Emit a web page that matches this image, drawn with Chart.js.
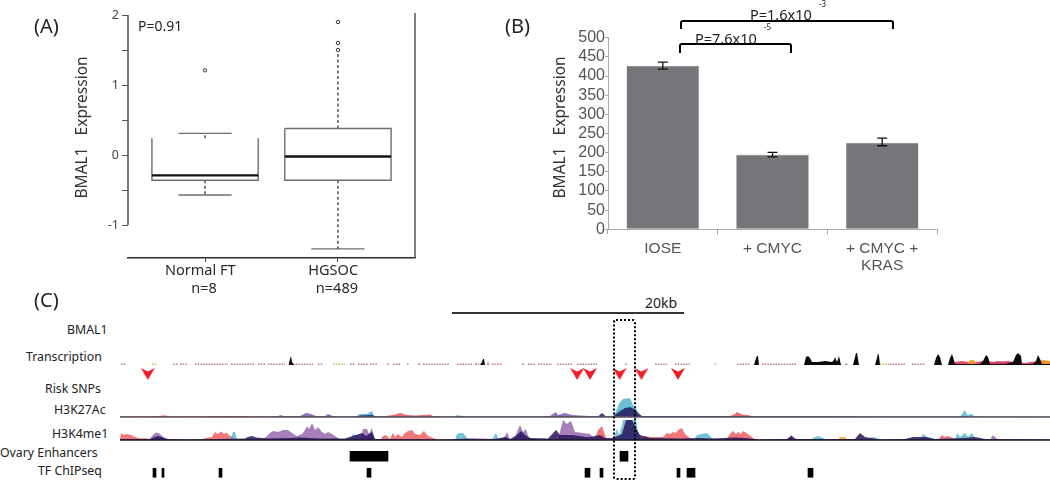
<!DOCTYPE html>
<html><head><meta charset="utf-8">
<script src="https://cdn.jsdelivr.net/npm/chart.js@4"></script>
<style>
html,body{margin:0;padding:0;background:#fff;overflow:hidden;width:1050px;height:481px}
canvas{position:absolute}
canvas.track{filter:blur(0.35px)}
.t{position:absolute;white-space:pre;transform:translateY(-50%);font-family:"Noto Sans",sans-serif;color:#222;line-height:1}
.br{position:absolute;border:2px solid #000;border-bottom:none;border-radius:3px 3px 0 0;box-sizing:border-box}
</style></head><body>
<script>
/* ---------- Panel A: box plot ---------- */
const boxGroups = ["Normal FT","HGSOC"];
const boxTickLabels = [["Normal FT  ","n=8"],["HGSOC  ","n=489"]];
const boxQ1 = [-0.36,-0.36];
const boxMedian = [-0.29,-0.02];
const boxQ3 = [0.24,0.38];
const boxWhiskerLow = [-0.57,-1.34];
const boxWhiskerHigh = [0.31,1.47];
const boxTopEdgeDrawn = [false,true];
const boxOutliers = [[1.21],[1.9,1.6,1.5]];
const boxYTicks = [-1,-0.5,0,0.5,1,1.5,2];

/* ---------- Panel B: bars ---------- */
const barCategories = ["IOSE","+ CMYC",["+ CMYC +","KRAS"]];
const barValues = [427,195,226];
const barErrLow = [418,189,218];
const barErrHigh = [436,201,238];

/* ---------- Panel C: tracks, x in position units across the browser view ---------- */
const snpPositions = [143,577,590,620,642,679];
const enhancerSpans = [[350,388],[620,628]];
const tfSpans = [[153,156],[162,164],[219,222],[367,371],[585,590],[600,603],[677,680],[687,695],[808,813]];

const txPink = [[121,126],[173,178],[180,188],[195,228],[231,255],[258,265],[268,285],[293,313],[318,323],[350,355],[358,368],[370,378],[387,389],[393,400],[407,409],[418,421],[423,450],[457,472],[475,480],[492,502],[522,525],[528,535],[538,552],[557,573],[577,597],[625,628],[655,667],[675,690],[737,750],[762,797],[890,905],[912,925]];
const txGreen = [[152,156],[333,345],[880,890]];
const txBlack = [[288.5,0],[290,6],[291,9],[292,3],[294,0],[480,0],[482,3],[483,6],[484,6],[485,0],[754,0],[756,7],[757,9],[758,9],[759,0],[804,0],[806,8],[808,9],[810,7],[812,3],[818,3],[825,4],[832,3],[834,5],[835,8],[837,3],[838,6],[839,9],[841,0],[853,0],[855,8],[856,12],[857,12],[859,0],[875,0],[877,7],[878,12],[879,9],[880,0],[934,0],[936,7],[938,11],[940,8],[942,0],[948,0],[950,7],[952,11],[953,8],[955,1],[965,1],[980,1],[983,4],[986,10],[988,8],[990,1],[1005,1],[1013,3],[1016,10],[1018,12],[1021,9],[1022,1],[1033,1],[1036,4],[1038,10],[1040,6],[1042,1],[1050,1]];
const txRed = [[952,0],[955,3],[962,4],[968,3],[975,3],[985,4],[995,3],[1008,4],[1015,3],[1025,2],[1030,3],[1040,4],[1050,3]];
const txOrange = [[966,0],[970,5],[974,5],[977,0],[1034,0],[1037,4],[1044,5],[1050,4]];
const txPurple = [[476,0],[476.5,3],[477,0],[487,0],[488,4],[489,0],[714.5,0],[715,3],[715.5,0],[845,0],[846,2],[848,0],[992,0],[996,4],[1004,3],[1006,0]];

const k27Red = [[120,0.8],[160,1],[163,1.8],[170,0.8],[230,1],[260,0.8],[335,0.6],[378,0.6],[385,1],[393,2],[400,4],[407,2],[415,1.5],[430,2.5],[433,1],[440,0.5],[640,0.5],[700,1],[730,1],[735,3],[737,5],[742,2.5],[748,2],[753,0.5],[1050,0.3]];
const k27Purple = [[275,0],[281,2],[285,0],[300,1],[306,4],[311,3],[316,1],[325,1],[328,3],[333,1],[338,0],[545,0],[550,1],[556,5],[558,2],[565,4],[572,2],[580,1.5],[590,1],[600,1],[605,0]];
const k27Teal = [[355,0],[360,3],[367,3],[372,6],[374,1],[376,0],[455,0],[457,2],[462,1],[465,0],[613,0],[617,8],[620,15],[623,18],[630,19],[633,12],[637,7],[640,0],[960,0],[965,7],[967,2],[972,3],[975,0]];
const k27Navy = [[120,0.3],[358,0.5],[360,1.5],[372,2],[376,0.5],[598,0.5],[602,4],[606,0.5],[613,0.5],[620,6],[625,9],[630,10],[634,8],[638,4],[642,1],[1050,0.3]];

const me1Red = [[120,0],[121,7],[124,5],[127,6],[131,5],[135,3],[140,1.5],[146,2],[150,0],[200,0],[205,2],[212,3],[215,8],[218,6],[221,8.5],[224,6],[226,7.5],[229,5],[232,3],[236,0],[380,0],[383,4],[386,5],[390,1],[393,7],[395,3],[398,6],[402,3],[405,7],[408,9],[412,10],[415,6],[420,5],[424,9],[428,4],[433,2],[438,0],[594,0],[598,10],[602,14],[604,8],[607,0],[642,0],[645,4],[650,3],[657,3],[663,3],[667,7],[670,6],[673,8],[676,7],[678,10],[682,12],[685,6],[690,2],[694,0],[726,0],[730,6],[733,9],[736,6],[738,8],[741,6],[743,9],[748,6],[753,2],[757,0],[938,0],[942,5],[945,3],[948,4],[953,2],[956,0]];
const me1Purple = [[149,0],[152,4],[155,7],[157,7.5],[160,6],[164,2],[168,0],[262,0],[266,3],[270,7],[273,9],[278,8],[283,10],[288,10],[292,7],[297,4],[302,6],[305,10],[307,14],[309,11],[312,17],[315,10],[318,13],[322,8],[325,6],[328,8],[332,6],[335,4],[338,2],[342,0],[360,0],[363,11],[367,11],[369,6],[372,12],[374,3],[376,0],[503,0],[507,8],[510,0],[514,0],[517,8],[520,15],[523,8],[526,11],[528,4],[532,0],[558,0],[563,20],[567,16],[571,19],[575,8],[583,7],[590,6],[595,1],[600,0],[788,0],[791,5],[795,2],[798,0],[990,0],[993,5],[997,1],[1000,0]];
const me1Teal = [[230,0],[233,8],[235,8],[237,0],[350,0],[353,6],[358,4],[361,0],[455,0],[457,6],[460,7],[463,7],[467,2],[470,0],[490,0],[493,2],[496,7],[498,2],[500,0],[613,0],[617,11],[619,5],[622,15],[623,20],[636,20],[638,8],[641,0],[694,0],[697,5],[702,6],[707,7],[712,2],[716,0],[810,0],[813,2],[818,4],[823,2],[826,0],[866,0],[872,3],[877,2],[882,0],[920,0],[923,6],[927,3],[932,2],[935,0],[955,0],[957,7],[960,3],[965,7],[968,3],[972,7],[976,0]];
const me1Navy = [[120,1],[150,1],[155,3],[158,4],[162,3],[168,1],[185,0.5],[220,1],[245,1.5],[248,3],[252,4],[256,2.5],[268,1.5],[290,2],[300,2.5],[310,2],[320,1.5],[335,1.5],[345,1.5],[362,7],[366,4],[372,8],[375,1],[400,1],[430,0.5],[445,0.5],[470,1.5],[495,1],[505,3],[510,1],[517,5],[521,9],[525,5],[530,2],[548,1.5],[556,10],[560,5],[572,5],[580,4],[585,3],[590,3],[600,5],[605,2],[612,2],[618,4],[622,6],[626,20],[632,20],[636,12],[640,5],[650,2],[680,1.5],[700,2],[712,1.5],[735,2.5],[745,2],[760,0.5],[787,1],[791,4],[795,1],[855,1],[860,7],[865,3],[880,0.5],[905,1],[913,3],[925,3],[935,1],[965,2],[975,3],[985,1],[1050,0.5]];
const me1Orange = [[838,0],[840,3],[845,3],[848,0]];

/* ---------- helpers ---------- */
Chart.defaults.animation = false;
Chart.defaults.responsive = false;
Chart.defaults.plugins.legend.display = false;
Chart.defaults.plugins.tooltip.enabled = false;
Chart.defaults.events = [];

function addCanvas(x,y,w,h,cls){
  const c=document.createElement('canvas');
  c.width=w;c.height=h;c.style.left=x+'px';c.style.top=y+'px';c.style.width=w+'px';c.style.height=h+'px';
  if(cls)c.className=cls;
  document.body.appendChild(c);return c;
}
function text(str,x,y,size,extra){
  const d=document.createElement('div');d.className='t';d.textContent=str;
  d.style.left=x+'px';d.style.top=y+'px';d.style.fontSize=size+'px';
  if(extra)Object.assign(d.style,extra);
  document.body.appendChild(d);return d;
}
function xy(list){return list.map(p=>({x:p[0],y:p[1]}));}
function spans(list,h){
  const out=[];
  list.forEach(s=>{out.push({x:s[0],y:h},{x:s[1],y:h},{x:s[1],y:null});});
  return out;
}

/* ---------- Panel A ---------- */
(function(){
  const GREY='#6e6e6e', BW=0.40, CW=0.20, XMIN=0.42, XMAX=2.58, YMIN=-1.471, YMAX=2.029;
  const ds=[];
  const line=(data,o)=>ds.push(Object.assign({type:'line',data,borderColor:GREY,borderWidth:1.4,pointRadius:0,clip:false},o||{}));
  boxGroups.forEach((g,i)=>{
    const c=i+1;
    line([{x:c-BW,y:boxMedian[i]},{x:c+BW,y:boxMedian[i]}],{borderColor:'#111',borderWidth:2.4});
    const box=[{x:c-BW,y:boxQ3[i]},{x:c-BW,y:boxQ1[i]},{x:c+BW,y:boxQ1[i]},{x:c+BW,y:boxQ3[i]}];
    if(boxTopEdgeDrawn[i])box.push({x:c-BW,y:boxQ3[i]});
    line(box);
    line([{x:c,y:boxQ3[i]},{x:c,y:boxWhiskerHigh[i]}],{borderDash:[3,2.5],borderColor:'#444'});
    line([{x:c,y:boxQ1[i]},{x:c,y:boxWhiskerLow[i]}],{borderDash:[3,2.5],borderColor:'#444'});
    if(i===0)line([{x:c-CW,y:boxWhiskerHigh[i]},{x:c+CW,y:boxWhiskerHigh[i]}]);
    line([{x:c-CW,y:boxWhiskerLow[i]},{x:c+CW,y:boxWhiskerLow[i]}]);
    ds.push({type:'scatter',data:boxOutliers[i].map(v=>({x:c,y:v})),pointRadius:1.7,pointBorderWidth:1,pointBorderColor:'#333',pointBackgroundColor:'rgba(255,255,255,0.6)'});
  });
  line([{x:XMIN,y:boxYTicks[0]},{x:XMIN,y:boxYTicks[boxYTicks.length-1]}],{borderColor:'#4a4a4a',borderWidth:1.5});
  line([{x:XMAX,y:YMIN},{x:XMAX,y:YMAX}],{borderColor:'#555',borderWidth:1.5});
  new Chart(addCanvas(0,0,440,300),{
    type:'scatter',data:{datasets:ds},
    options:{
      layout:{padding:{left:0,top:13,right:25,bottom:0}},
      scales:{
        x:{type:'linear',min:XMIN,max:XMAX,
          afterFit:s=>{s.height=42;},
          afterBuildTicks:s=>{s.ticks=boxGroups.map((g,i)=>({value:i+1}));},
          border:{display:true,color:'#2a2a2a',width:1.6},
          grid:{drawOnChartArea:false,tickLength:4,tickColor:'#444'},
          ticks:{padding:0,maxRotation:0,autoSkip:false,color:'#2a2a2a',font:{family:'Noto Sans',size:14.5,lineHeight:1.25},
            labelOffset:-1,callback:v=>boxTickLabels[v-1]}},
        y:{type:'linear',min:YMIN,max:YMAX,
          afterFit:s=>{s.width=128;},
          afterBuildTicks:s=>{s.ticks=boxYTicks.map(v=>({value:v}));},
          border:{display:false},
          grid:{drawOnChartArea:false,tickLength:6,tickColor:'#555',tickWidth:1},
          ticks:{padding:3,color:'#444',font:{family:'Noto Sans',size:12.5},autoSkip:false,
            callback:v=>Number.isInteger(v)?String(v):''},
          title:{display:true,text:'    BMAL1   Expression',color:'#333',font:{family:'Noto Sans',size:15.5},padding:{top:73,bottom:0}}}
      }
    }
  });
})();

/* ---------- Panel B ---------- */
(function(){
  const ds=[{type:'bar',xAxisID:'x',data:barValues,grouped:false,backgroundColor:'#757679',borderColor:'#c9c9c9',borderWidth:0.6,barPercentage:0.665,categoryPercentage:1,order:2}];
  barCategories.forEach((c,i)=>{
    ds.push({type:'line',xAxisID:'xe',data:[{x:i,y:barErrLow[i]},{x:i,y:barErrHigh[i]}],borderColor:'#111',borderWidth:1.3,
      pointStyle:'line',pointRadius:5,pointBorderWidth:1.3,pointBorderColor:'#111',order:1});
  });
  new Chart(addCanvas(500,0,450,290),{
    type:'bar',
    data:{labels:barCategories,datasets:ds},
    options:{
      layout:{padding:{left:0,top:37.7,right:13,bottom:0}},
      scales:{
        x:{afterFit:s=>{s.height=60.7;},
          offset:true,
          border:{display:true,color:'#a9a9a9',width:1},
          grid:{offset:true,drawOnChartArea:false,tickLength:5,tickColor:'#a9a9a9'},
          ticks:{padding:6,maxRotation:0,autoSkip:false,color:'#555',font:{family:'Liberation Sans',size:15.5,lineHeight:1.1}}},
        xe:{type:'linear',display:false,offset:false,min:-0.5,max:2.5},
        y:{min:0,max:500,
          afterFit:s=>{s.width=108;},
          border:{display:true,color:'#a9a9a9',width:1},
          grid:{drawOnChartArea:false,tickLength:3,tickColor:'#a9a9a9'},
          ticks:{stepSize:50,padding:0,autoSkip:false,color:'#555',font:{family:'Liberation Sans',size:16}},
          title:{display:true,text:'   BMAL1   Expression',color:'#333',font:{family:'Noto Sans',size:15.5},padding:{top:51,bottom:0}}}
      }
    }
  });
})();

/* ---------- Panel C tracks ---------- */
const XA=120,XB=1050;
function track(top,height,ymin,ymax,layers){
  new Chart(addCanvas(XA,top,XB-XA,height,'track'),{
    type:'line',
    data:{datasets:layers.map((l,i)=>Object.assign({
      data:xy(l.pts),borderWidth:0,pointRadius:0,fill:'origin',backgroundColor:l.color,order:layers.length-i,spanGaps:false
    },l.opts||{}))},
    options:{layout:{padding:0},scales:{
      x:{type:'linear',display:false,min:XA,max:XB},
      y:{type:'linear',display:false,min:ymin,max:ymax}
    }}
  });
}
function dashes(list,h,color,w){
  return {pts:[],color,opts:{data:spans(list,h),fill:false,borderColor:color,borderWidth:w,borderDash:[1.6,1.1],backgroundColor:'transparent'}};
}
track(340,26,-1,25,[
  dashes(txPink,0.8,'rgba(170,70,120,0.72)',1.6),
  dashes(txGreen,0.8,'rgba(170,180,70,0.8)',1.6),
  {pts:txPurple,color:'rgba(120,60,150,0.75)'},
  {pts:txRed,color:'rgba(225,50,90,0.9)'},
  {pts:txOrange,color:'rgba(240,150,40,0.9)'},
  {pts:txBlack,color:'#0a0a0a'}
]);
const baseline=(c,w)=>({pts:[],color:c,opts:{data:[{x:XA,y:0},{x:XB,y:0}],fill:false,borderColor:c,borderWidth:w,backgroundColor:'transparent'}});
track(391.5,26,-1,25,[
  {pts:k27Purple,color:'rgba(125,90,170,0.85)'},
  {pts:k27Red,color:'rgba(236,80,90,0.85)'},
  {pts:k27Teal,color:'rgba(70,175,205,0.8)'},
  {pts:k27Navy,color:'rgba(35,25,95,0.85)'},
  baseline('#5a5560',1.6)
]);
track(415,26,-1,25,[
  {pts:me1Purple,color:'rgba(150,105,175,0.85)'},
  {pts:me1Red,color:'rgba(240,95,100,0.85)'},
  {pts:me1Orange,color:'rgba(240,180,60,0.9)'},
  {pts:me1Teal,color:'rgba(70,175,195,0.75)'},
  {pts:me1Navy,color:'rgba(40,20,90,0.85)'},
  baseline('#1c1428',1.5)
]);

/* Risk SNP chevrons */
(function(){
  const m=document.createElement('canvas');m.width=14;m.height=12;
  const g=m.getContext('2d');g.fillStyle='#f01e28';
  g.beginPath();g.moveTo(0,0);g.lineTo(7,3.5);g.lineTo(14,0);g.lineTo(7,12);g.closePath();g.fill();
  new Chart(addCanvas(XA,362,XB-XA,24,'track'),{
    type:'scatter',
    data:{datasets:[{data:snpPositions.map(p=>({x:p,y:0})),pointStyle:m}]},
    options:{layout:{padding:0},scales:{x:{type:'linear',display:false,min:XA,max:XB},y:{type:'linear',display:false,min:-1,max:1}}}
  });
})();

/* Enhancers and TF rows */
new Chart(addCanvas(XA,448,XB-XA,33),{
  type:'bar',
  data:{labels:['Ovary Enhancers','TF ChIPseq'],datasets:[
    {data:enhancerSpans.map(s=>({y:'Ovary Enhancers',x:s})),backgroundColor:'#000',barThickness:10,grouped:false},
    {data:tfSpans.map(s=>({y:'TF ChIPseq',x:s})),backgroundColor:'#000',barThickness:9,grouped:false}
  ]},
  options:{indexAxis:'y',layout:{padding:0},scales:{
    x:{type:'linear',display:false,min:XA,max:XB},
    y:{type:'category',display:false}
  }}
});

/* ---------- Annotations ---------- */
text('(A)',34,26,20);
text('(B)',505,26,20);
text('(C)',34,300,20);
text('P=0.91',138,26,14);
text('P=1.6x10',750,14,14.5);
text('-3',819,4,8);
text('P=7.6x10',695,38,14.5);
text('-5',764,27,8);
function bracket(x,y,w,h){const d=document.createElement('div');d.className='br';Object.assign(d.style,{left:x+'px',top:y+'px',width:w+'px',height:h+'px'});document.body.appendChild(d);}
bracket(680,20,214,9);
bracket(678.5,42.5,113,10);
text('20kb',645,303,14);
const sl=document.createElement('div');Object.assign(sl.style,{position:'absolute',left:'452px',top:'312px',width:'232px',height:'2px',background:'#333'});document.body.appendChild(sl);
text('BMAL1',67,330,12.3);
text('Transcription',26,357,12.3);
text('Risk SNPs',45,389,12.3);
text('H3K27Ac',54,410,12.3);
text('H3K4me1',52,434,12.3);
text('Ovary Enhancers',0,453,12.3);
text('TF ChIPseq',38,471,12.3);
const bx=document.createElement('div');Object.assign(bx.style,{position:'absolute',left:'613px',top:'319px',width:'23px',height:'161px',border:'2px dotted #000',borderRadius:'3px',boxSizing:'border-box'});document.body.appendChild(bx);
</script>
</body></html>
